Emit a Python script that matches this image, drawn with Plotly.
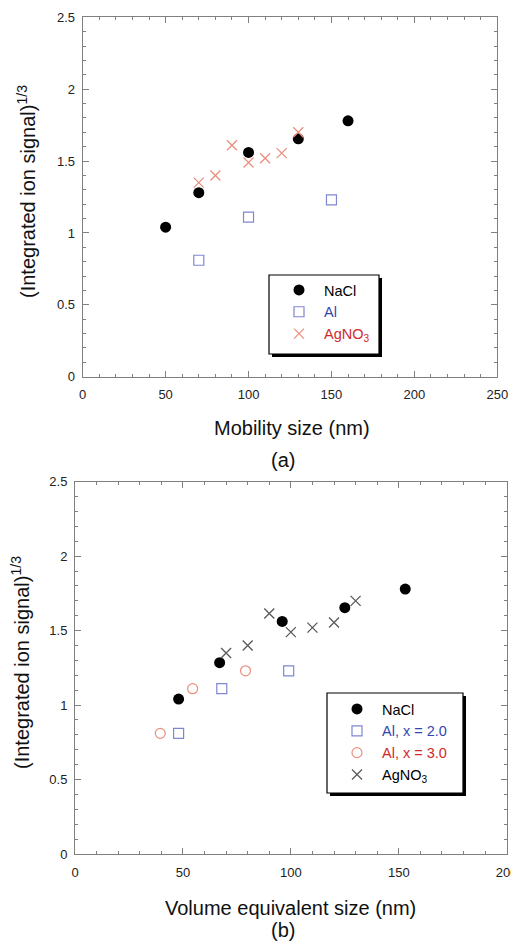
import plotly.graph_objects as go

# ---- data (panel a) ----
a_nacl_x = [50, 70, 100, 130, 160]
a_nacl_y = [1.04, 1.28, 1.56, 1.655, 1.78]
a_al_x = [70, 100, 150]
a_al_y = [0.81, 1.11, 1.23]
a_ag_x = [70, 80, 90, 100, 110, 120, 130]
a_ag_y = [1.35, 1.40, 1.61, 1.49, 1.52, 1.555, 1.70]

# ---- data (panel b) ----
b_nacl_x = [48, 67, 96, 125, 153]
b_nacl_y = [1.04, 1.285, 1.562, 1.654, 1.779]
b_al2_x = [48, 68, 99]
b_al2_y = [0.81, 1.11, 1.23]
b_al3_x = [39.5, 54.5, 79]
b_al3_y = [0.81, 1.11, 1.23]
b_ag_x = [70, 80, 90, 100, 110, 120, 130]
b_ag_y = [1.35, 1.40, 1.615, 1.49, 1.52, 1.555, 1.70]

W, H = 511, 941
FONT = "Arial, 'Liberation Sans', Helvetica, sans-serif"
BLUE_M = "#7f86d2"
BLUE_T = "#3546b0"
RED_M = "#ea8f80"
RED_T = "#d02a2a"
GRAY_M = "#5a5a5a"

def px_x(p):
    return p / W

def px_y(p):
    return 1 - p / H

fig = go.Figure()

# panel a
fig.add_trace(go.Scatter(x=a_nacl_x, y=a_nacl_y, mode="markers", name="NaCl",
                         marker=dict(symbol="circle", size=11, color="black"),
                         xaxis="x", yaxis="y", legend="legend"))
fig.add_trace(go.Scatter(x=a_al_x, y=a_al_y, mode="markers",
                         name=f'<span style="color:{BLUE_T}">Al</span>',
                         marker=dict(symbol="square-open", size=10, color=BLUE_M, line=dict(width=1.2)),
                         xaxis="x", yaxis="y", legend="legend"))
fig.add_trace(go.Scatter(x=a_ag_x, y=a_ag_y, mode="markers",
                         name=f'<span style="color:{RED_T}">AgNO<sub>3</sub></span>',
                         marker=dict(symbol="x-thin", size=10, color=RED_M, line=dict(width=1.3, color=RED_M)),
                         xaxis="x", yaxis="y", legend="legend"))

# panel b
fig.add_trace(go.Scatter(x=b_nacl_x, y=b_nacl_y, mode="markers", name="NaCl",
                         marker=dict(symbol="circle", size=11, color="black"),
                         xaxis="x2", yaxis="y2", legend="legend2"))
fig.add_trace(go.Scatter(x=b_al2_x, y=b_al2_y, mode="markers",
                         name=f'<span style="color:{BLUE_T}">Al, x = 2.0</span>',
                         marker=dict(symbol="square-open", size=10, color=BLUE_M, line=dict(width=1.2)),
                         xaxis="x2", yaxis="y2", legend="legend2"))
fig.add_trace(go.Scatter(x=b_al3_x, y=b_al3_y, mode="markers",
                         name=f'<span style="color:{RED_T}">Al, x = 3.0</span>',
                         marker=dict(symbol="circle-open", size=10, color=RED_M, line=dict(width=1.2)),
                         xaxis="x2", yaxis="y2", legend="legend2"))
fig.add_trace(go.Scatter(x=b_ag_x, y=b_ag_y, mode="markers",
                         name="AgNO<sub>3</sub>",
                         marker=dict(symbol="x-thin", size=10, color=GRAY_M, line=dict(width=1.3, color=GRAY_M)),
                         xaxis="x2", yaxis="y2", legend="legend2"))

axis_common = dict(
    showgrid=False, zeroline=False, showline=True, linecolor="#808080", linewidth=1,
    mirror="allticks", ticks="inside", ticklen=6, tickcolor="#808080", tickwidth=1,
    tickfont=dict(family=FONT, size=13, color="#222"), automargin=False,
)
minor_x = dict(dtick=10, ticks="inside", ticklen=3, tickcolor="#808080")
minor_y = dict(dtick=0.1, ticks="inside", ticklen=3, tickcolor="#808080")

LEG_FONT = dict(family=FONT, size=14.5)

fig.update_layout(
    width=W, height=H, margin=dict(l=0, r=0, t=0, b=0, pad=0, autoexpand=False),
    paper_bgcolor="white", plot_bgcolor="white",
    font=dict(family=FONT, color="black"),
    xaxis=dict(domain=[px_x(82.7), px_x(497.3)], range=[0, 250], dtick=50, anchor="y",
               minor=minor_x, ticklabelstandoff=6, ticklabeloverflow="allow", **axis_common),
    yaxis=dict(domain=[px_y(376.7), px_y(17.3)], range=[0, 2.5], dtick=0.5, anchor="x",
               minor=minor_y, ticklabelstandoff=4, **axis_common),
    xaxis2=dict(domain=[px_x(75), px_x(506.7)], range=[0, 200], dtick=50, anchor="y2",
                minor=minor_x, ticklabelstandoff=6, ticklabeloverflow="allow", **axis_common),
    yaxis2=dict(domain=[px_y(854), px_y(481.7)], range=[0, 2.5], dtick=0.5, anchor="x2",
                minor=minor_y, ticklabelstandoff=4, **axis_common),
    legend=dict(x=px_x(274), y=px_y(274), xanchor="left", yanchor="top",
                bgcolor="rgba(0,0,0,0)", borderwidth=0, font=LEG_FONT,
                itemwidth=40, tracegroupgap=0),
    legend2=dict(x=px_x(332), y=px_y(693), xanchor="left", yanchor="top",
                 bgcolor="rgba(0,0,0,0)", borderwidth=0, font=LEG_FONT,
                 itemwidth=40, tracegroupgap=0),
    showlegend=True,
)

# legend boxes with drop shadow
def legend_box(x0, y0, x1, y1):
    fig.add_shape(type="rect", xref="paper", yref="paper",
                  x0=px_x(x0 + 3), x1=px_x(x1 + 3), y0=px_y(y1 + 3), y1=px_y(y0 + 3),
                  fillcolor="black", line=dict(width=0), layer="above")
    fig.add_shape(type="rect", xref="paper", yref="paper",
                  x0=px_x(x0), x1=px_x(x1), y0=px_y(y1), y1=px_y(y0),
                  fillcolor="white", line=dict(width=1.2, color="black"), layer="above")

legend_box(269, 275, 379, 354)
legend_box(327, 693, 463, 793)

# axis titles and panel labels
ann = [
    dict(text="(Integrated ion signal)<sup>1/3</sup>", x=px_x(26), y=px_y(192), textangle=-90, size=20),
    dict(text="Mobility size (nm)", x=px_x(292), y=px_y(428), textangle=0, size=20),
    dict(text="(a)", x=px_x(283), y=px_y(460), textangle=0, size=20),
    dict(text="(Integrated ion signal)<sup>1/3</sup>", x=px_x(20), y=px_y(663), textangle=-90, size=20),
    dict(text="Volume equivalent size (nm)", x=px_x(290), y=px_y(908), textangle=0, size=20),
    dict(text="(b)", x=px_x(283), y=px_y(930), textangle=0, size=20),
]
for a in ann:
    fig.add_annotation(text=a["text"], x=a["x"], y=a["y"], xref="paper", yref="paper",
                       xanchor="center", yanchor="middle", showarrow=False,
                       textangle=a["textangle"], font=dict(family=FONT, size=a["size"], color="#111"))

post = ("document.documentElement.style.margin='0';document.body.style.margin='0';"
        "document.documentElement.style.overflow='hidden';document.body.style.overflow='hidden';"
        "var gd=document.getElementById('{plot_id}');gd.style.position='fixed';"
        "gd.style.left='0px';gd.style.top='0px';window.scrollTo(0,0);")
fig.write_html("out.html", config={"displayModeBar": False}, post_script=post)
